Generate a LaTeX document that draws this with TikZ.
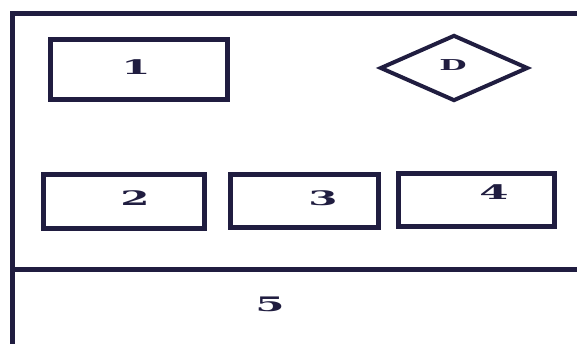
\documentclass[tikz,border=0pt]{standalone}
\usepackage{graphicx}
\usepackage{fontspec}
\setmainfont{DejaVu Serif}
\usetikzlibrary{shapes.geometric}

\definecolor{ink}{RGB}{32,29,64}
\newcommand{\widenum}[2]{\scalebox{2.1}[1]{\fontsize{#1}{#1}\selectfont\bfseries #2}}

\begin{document}
\begin{tikzpicture}[
  x=1pt, y=-1pt,
  frameline/.style={draw=ink, line width=5pt},
  blockbox/.style={draw=ink, line width=5pt, rectangle, inner sep=0pt},
  decbox/.style={draw=ink, line width=4pt, diamond, inner sep=0pt},
  numtxt/.style={text=ink, inner sep=0pt}
]
  \useasboundingbox (0,0) rectangle (577,344);

  % frame: left edge, top edge and the divider above area 5
  \coordinate (tl) at (12.5,12);
  \coordinate (bl) at (12.5,344);
  \coordinate (tr) at (577,14);
  \coordinate (ml) at (12.5,269);
  \coordinate (mr) at (577,269);
  \draw[frameline] (bl) -- (tl |- tr) -- (tr);
  \draw[frameline] (ml) -- (mr);

  % upper row: block 1 and decision D
  \node[blockbox, minimum width=177pt, minimum height=60pt] (b1) at (139,69.5) {};
  \node[numtxt] (t1) at (136,67) {\widenum{20}{1}};
  \node[decbox, minimum width=148pt, minimum height=66pt] (dd) at (454,68) {};
  \node[numtxt] (td) at (453,65) {\widenum{15}{D}};

  % lower row: blocks 2, 3, 4
  \node[blockbox, minimum width=161pt, minimum height=54pt] (b2) at (124,201.5) {};
  \node[numtxt] (t2) at (135,198) {\widenum{20}{2}};
  \node[blockbox, minimum width=148pt, minimum height=53pt] (b3) at (304.5,201) {};
  \node[numtxt] (t3) at (323,198) {\widenum{20}{3}};
  \node[blockbox, minimum width=156pt, minimum height=53pt] (b4) at (476.5,200) {};
  \node[numtxt] (t4) at (494,192) {\widenum{20}{4}};

  % bottom area
  \node[numtxt] (t5) at (270,304) {\widenum{20}{5}};
\end{tikzpicture}
\end{document}
